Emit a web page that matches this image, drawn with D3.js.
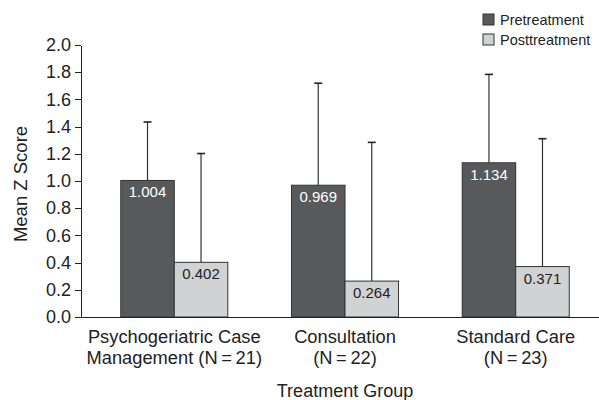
<!DOCTYPE html>
<html lang="en">
<head>
  <meta charset="utf-8">
  <title>Mean Z Score by Treatment Group</title>
  <script src="https://cdn.jsdelivr.net/npm/d3@7"></script>
  <style>
    body { margin: 0; background: #fff; }
    text { font-family: "Liberation Sans", Arial, sans-serif; fill: #222; }
    .axis path, .axis line { stroke: #222; shape-rendering: crispEdges; }
  </style>
</head>
<body>
<script>
  var groups = ["Psychogeriatric Case|Management (N\u2009=\u200921)", "Consultation|(N\u2009=\u200922)", "Standard Care|(N\u2009=\u200923)"];
  var series = ["Pretreatment", "Posttreatment"];
  var preMeans = [1.004, 0.969, 1.134];
  var postMeans = [0.402, 0.264, 0.371];
  var preErr = [0.43, 0.75, 0.65];
  var postErr = [0.80, 1.02, 0.94];
  var yTicks = [0, 0.2, 0.4, 0.6, 0.8, 1.0, 1.2, 1.4, 1.6, 1.8, 2.0];

  var colors = { Pretreatment: "#58595b", Posttreatment: "#d1d2d4" };

  var W = 599, H = 400;
  var plotLeft = 81, plotTop = 45, plotBottom = 317;

  var svg = d3.select("body").append("svg")
    .attr("width", W).attr("height", H);

  var x = d3.scaleBand().domain(groups)
    .range([88.9, 601.1]).paddingInner(0.373).paddingOuter(0.1866);
  var xs = d3.scaleBand().domain(series).range([0, x.bandwidth()]);
  var y = d3.scaleLinear().domain([0, 2]).range([plotBottom, plotTop]);

  var rows = [];
  groups.forEach(function(g, i) {
    rows.push({ g: g, s: "Pretreatment", v: preMeans[i], e: preErr[i] });
    rows.push({ g: g, s: "Posttreatment", v: postMeans[i], e: postErr[i] });
  });

  function cx(d) { return x(d.g) + xs(d.s) + xs.bandwidth() / 2; }

  // error bars (upper only)
  var eb = svg.append("g").selectAll("g").data(rows).enter().append("g");
  eb.append("line")
    .attr("x1", cx).attr("x2", cx)
    .attr("y1", function(d) { return y(d.v); })
    .attr("y2", function(d) { return y(d.v + d.e); })
    .attr("stroke", "#333").attr("stroke-width", 1.2);
  eb.append("line")
    .attr("x1", function(d) { return cx(d) - 4; })
    .attr("x2", function(d) { return cx(d) + 4; })
    .attr("y1", function(d) { return y(d.v + d.e); })
    .attr("y2", function(d) { return y(d.v + d.e); })
    .attr("stroke", "#222").attr("stroke-width", 1.6);

  // bars
  svg.append("g").selectAll("rect").data(rows).enter().append("rect")
    .attr("x", function(d) { return x(d.g) + xs(d.s); })
    .attr("y", function(d) { return y(d.v); })
    .attr("width", xs.bandwidth())
    .attr("height", function(d) { return y(0) - y(d.v); })
    .attr("fill", function(d) { return colors[d.s]; })
    .attr("stroke", "#333").attr("stroke-width", 1);

  // value labels
  svg.append("g").selectAll("text").data(rows).enter().append("text")
    .attr("x", cx)
    .attr("y", function(d) { return y(d.v) + 17; })
    .attr("text-anchor", "middle")
    .style("font-size", "15px")
    .style("fill", function(d) { return d.s === "Pretreatment" ? "#fff" : "#222"; })
    .text(function(d) { return d3.format(".3f")(d.v); });

  // y axis
  svg.append("g").attr("class", "axis")
    .attr("transform", "translate(" + plotLeft + ",0)")
    .call(d3.axisLeft(y).tickValues(yTicks).tickSize(6).tickSizeOuter(0).tickPadding(4).tickFormat(d3.format(".1f")))
    .selectAll("text").style("font-size", "18px");

  // x axis line
  svg.append("g").attr("class", "axis")
    .attr("transform", "translate(0," + plotBottom + ")")
    .call(d3.axisBottom(x).tickSize(0).tickFormat(""))
    .select(".domain").attr("d", "M" + plotLeft + ",0H" + W);

  // group labels
  var gl = svg.append("g").selectAll("text").data(groups).enter().append("text")
    .attr("text-anchor", "middle")
    .style("font-size", "18.3px");
  gl.selectAll("tspan").data(function(d) { return d.split("|").map(function(t) { return { t: t, g: d }; }); })
    .enter().append("tspan")
    .attr("x", function(d) { return x(d.g) + x.bandwidth() / 2; })
    .attr("y", function(d, i) { return 343 + i * 21; })
    .text(function(d) { return d.t; });

  // axis titles
  svg.append("text")
    .attr("x", x(groups[1]) + x.bandwidth() / 2).attr("y", 397)
    .attr("text-anchor", "middle").style("font-size", "18px")
    .text("Treatment Group");
  svg.append("text")
    .attr("transform", "translate(27,184) rotate(-90)")
    .attr("text-anchor", "middle").style("font-size", "18.5px")
    .text("Mean Z Score");

  // legend
  var lg = svg.append("g").selectAll("g").data(series).enter().append("g")
    .attr("transform", function(d, i) { return "translate(483," + (14 + i * 20) + ")"; });
  lg.append("rect").attr("width", 11).attr("height", 11)
    .attr("fill", function(d) { return colors[d]; })
    .attr("stroke", "#333").attr("stroke-width", 1);
  lg.append("text").attr("x", 17).attr("y", 10.5)
    .style("font-size", "14.5px")
    .text(function(d) { return d; });
</script>
</body>
</html>
